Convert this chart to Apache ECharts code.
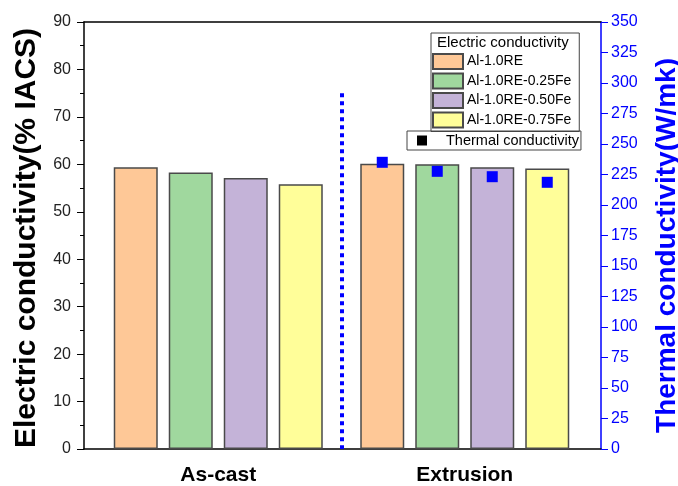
<!DOCTYPE html>
<html>
<head>
<meta charset="utf-8">
<script src="https://cdn.jsdelivr.net/npm/echarts@6/dist/echarts.min.js"></script>
<style>html,body{margin:0;padding:0;background:#fff}#c{width:678px;height:486px}</style>
</head>
<body>
<div id="c"></div>
<script>
const categories = ['As-cast', 'Extrusion'];
const seriesNames = ['Al-1.0RE', 'Al-1.0RE-0.25Fe', 'Al-1.0RE-0.50Fe', 'Al-1.0RE-0.75Fe'];
const ecAl10RE = [59.4, 60.1];
const ecFe025 = [58.3, 60.0];
const ecFe050 = [57.1, 59.4];
const ecFe075 = [55.8, 59.1];
const tcAl10RE = [null, 235];
const tcFe025 = [null, 227.6];
const tcFe050 = [null, 223.2];
const tcFe075 = [null, 218.6];
const leftTicks = [0, 10, 20, 30, 40, 50, 60, 70, 80, 90];
const rightTicks = [0, 25, 50, 75, 100, 125, 150, 175, 200, 225, 250, 275, 300, 325, 350];
const dividerTop = 75;

const colors = ['#FEC897', '#A0D89E', '#C4B3D8', '#FFFE99'];
const ecData = [ecAl10RE, ecFe025, ecFe050, ecFe075];
const tcData = [tcAl10RE, tcFe025, tcFe050, tcFe075];
const FONT = 'Liberation Sans, Arial, sans-serif';

const chart = echarts.init(document.getElementById('c'));
const series = [];
ecData.forEach((d, i) => {
  series.push({
    name: seriesNames[i], type: 'bar', xAxisIndex: 2, yAxisIndex: 2,
    data: d, barWidth: 44, barGap: '25%',
    itemStyle: { color: colors[i], borderColor: '#4a4a4a', borderWidth: 1.5 },
    z: 2
  });
});
tcData.forEach((d, i) => {
  series.push({
    name: 'Thermal conductivity', type: 'pictorialBar', xAxisIndex: 2, yAxisIndex: 3,
    data: d, barWidth: 44, barGap: '25%',
    symbol: 'rect', symbolSize: [11, 11], symbolPosition: 'end', symbolOffset: [0, '-50%'],
    itemStyle: { color: '#0000FF' }, z: 5
  });
});
series.push({
  type: 'line', xAxisIndex: 3, yAxisIndex: 2, data: [], silent: true,
  markLine: {
    symbol: 'none', silent: true, label: { show: false },
    lineStyle: { color: '#0000FF', width: 4, type: [4, 4] },
    data: [[{ coord: [1, dividerTop] }, { coord: [1, 0] }]]
  }
});

chart.setOption({
  animation: false,
  backgroundColor: '#fff',
  title: {
    text: 'Electric conductivity', left: 432, top: 30,
    textStyle: { fontFamily: FONT, fontSize: 15, fontWeight: 'normal', color: '#000' }
  },
  legend: [{
    data: seriesNames, orient: 'vertical', left: 431, top: 33,
    icon: 'rect', itemWidth: 30, itemHeight: 15, itemGap: 2.5,
    padding: [20, 8, 3, 1], borderColor: '#444', borderWidth: 1,
    textStyle: { fontFamily: FONT, fontSize: 14, lineHeight: 16, color: '#000', padding: [0, 0, 0, -1] }
  }, {
    data: ['Thermal conductivity'], left: 407, top: 131,
    itemWidth: 10, itemHeight: 10, icon: 'rect',
    itemStyle: { color: '#000' },
    padding: [1, 2, 1, 10], borderColor: '#444', borderWidth: 1,
    textStyle: { fontFamily: FONT, fontSize: 14.5, lineHeight: 17, color: '#000', padding: [0, 0, 0, 14] }
  }],
  grid: [
    { left: 84, right: 77, top: 22, bottom: 37, containLabel: false, outerBoundsMode: 'none' },
    { left: 95, right: 90, top: 22, bottom: 37, containLabel: false, outerBoundsMode: 'none' }
  ],
  xAxis: [
    { gridIndex: 0, type: 'value', min: 0, max: 1, position: 'bottom',
      axisLine: { onZero: false, lineStyle: { color: '#000', width: 1.5 } }, axisTick: { show: false },
      axisLabel: { show: false }, splitLine: { show: false } },
    { gridIndex: 0, type: 'value', min: 0, max: 1, position: 'top',
      axisLine: { show: true, onZero: false, lineStyle: { color: '#000', width: 1.5 } }, axisTick: { show: false },
      axisLabel: { show: false }, splitLine: { show: false } },
    { gridIndex: 1, type: 'category', data: categories,
      axisLine: { show: false }, axisTick: { show: false },
      axisLabel: { margin: 16, fontFamily: FONT, fontSize: 21, fontWeight: 'bold', color: '#000' } },
    { gridIndex: 1, type: 'value', min: 0, max: 2, show: false }
  ],
  yAxis: [
    { gridIndex: 0, type: 'value', min: 0, max: 90, interval: 10, position: 'left',
      name: 'Electric conductivity(% IACS)', nameLocation: 'middle', nameGap: 42,
      nameTextStyle: { fontFamily: FONT, fontSize: 30, fontWeight: 'bold', color: '#000', padding: [0, 5, 0, 0] },
      axisLine: { show: true, onZero: false, lineStyle: { color: '#000', width: 1.5 } },
      axisTick: { show: true, length: 7, lineStyle: { color: '#000' } },
      minorTick: { show: true, splitNumber: 2, length: 4, lineStyle: { color: '#000' } },
      axisLabel: { fontFamily: FONT, fontSize: 16, color: '#222', margin: 13 },
      splitLine: { show: false } },
    { gridIndex: 0, type: 'value', min: 0, max: 350, interval: 25, position: 'right',
      name: 'Thermal conductivity(W/mk)', nameLocation: 'middle', nameGap: 52, nameRotate: 90,
      nameTextStyle: { fontFamily: FONT, fontSize: 28, fontWeight: 'bold', color: '#0000FF', padding: [0, 20, 0, 0] },
      axisLine: { show: true, onZero: false, lineStyle: { color: '#0000FF', width: 1.5 } },
      axisTick: { show: true, length: 7, lineStyle: { color: '#0000FF' } },
      axisLabel: { fontFamily: FONT, fontSize: 16, color: '#0000FF', margin: 10 },
      splitLine: { show: false } },
    { gridIndex: 1, type: 'value', min: 0, max: 90, show: false },
    { gridIndex: 1, type: 'value', min: 0, max: 350, show: false }
  ],
  series: series
});
</script>
</body>
</html>
